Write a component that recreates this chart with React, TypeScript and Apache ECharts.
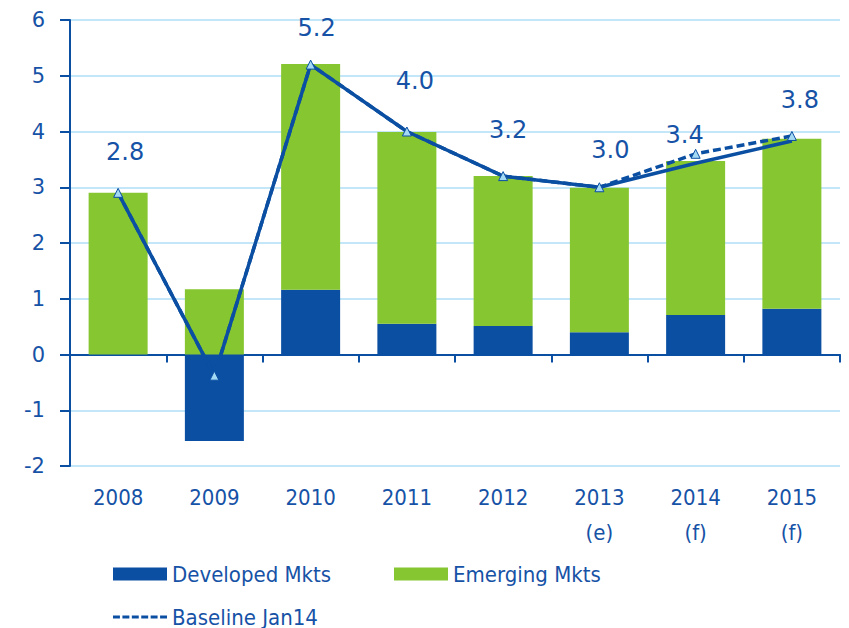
import React, { useEffect, useRef } from "react";
import * as echarts from "echarts";

const categories = ["2008", "2009", "2010", "2011", "2012", "2013\n(e)", "2014\n(f)", "2015\n(f)"];
const developedMkts = [0, -1.55, 1.16, 0.55, 0.51, 0.4, 0.71, 0.82];
const emergingMkts = [2.9, 1.17, 4.05, 3.44, 2.69, 2.59, 2.76, 3.05];
const worldGrowth = [2.9, -0.38, 5.2, 4.0, 3.2, 3.0, 3.43, 3.83];
const baselineJan14 = [2.9, -0.38, 5.2, 4.0, 3.2, 3.0, 3.6, 3.92];
const valueLabels = ["2.8", "", "5.2", "4.0", "3.2", "3.0", "3.4", "3.8"];
const yTicks = { min: -2, max: 6, interval: 1 };

// label placement tweaks (layout only)
const labelOffsets: [number, number][] = [
  [7, -41], [0, 0], [6, -37], [8, -51], [5, -46], [11, -37], [-11, -19], [8, -36],
];

const DARK = "#0b4fa3";
const GREEN = "#86c630";
const TEXT = "#1652a6";
const GRID = "#c3e7f8";
const NARROW = "'Liberation Sans Narrow', 'DejaVu Sans Condensed', 'Liberation Sans', sans-serif";
const dashIcon =
  "path://M0,0h7v3h-7zM9.5,0h7v3h-7zM19,0h7v3h-7zM28.5,0h7v3h-7zM38,0h7v3h-7zM47.5,0h7v3h-7z";

const legendText = { color: TEXT, fontSize: 22, fontFamily: NARROW };

export default function App() {
  const ref = useRef<HTMLDivElement>(null);
  useEffect(() => {
    if (!ref.current) return;
    const chart = echarts.init(ref.current, null, { renderer: "svg" });
    chart.setOption({
      animation: false,
      backgroundColor: "#ffffff",
      grid: { left: 70, right: 9, top: 20, bottom: 162, containLabel: false },
      legend: [
        {
          data: [{ name: "Developed Mkts", icon: "rect" }],
          left: 108,
          top: 558,
          itemWidth: 54,
          itemHeight: 13,
          selectedMode: false,
          textStyle: legendText,
        },
        {
          data: [{ name: "Emerging Mkts", icon: "rect" }],
          left: 389,
          top: 558,
          itemWidth: 54,
          itemHeight: 13,
          selectedMode: false,
          textStyle: legendText,
        },
        {
          data: [
            {
              name: "Baseline Jan14",
              icon: dashIcon,
              itemStyle: { color: DARK, borderWidth: 0 },
            },
          ],
          left: 108,
          top: 601,
          itemWidth: 54,
          itemHeight: 3.5,
          selectedMode: false,
          textStyle: legendText,
        },
      ],
      xAxis: [
        {
          type: "category",
          data: categories,
          boundaryGap: true,
          axisLine: { show: true, onZero: true, lineStyle: { color: DARK, width: 2 } },
          axisTick: { show: true, inside: false, length: 8, lineStyle: { color: DARK, width: 2 } },
          axisLabel: { show: false },
          splitLine: { show: false },
        },
        {
          type: "category",
          data: categories,
          position: "bottom",
          boundaryGap: true,
          axisLine: { show: false, onZero: false },
          axisTick: { show: false },
          axisLabel: {
            show: true,
            margin: 14,
            color: TEXT,
            fontSize: 22,
            lineHeight: 35,
            fontFamily: NARROW,
            interval: 0,
          },
          splitLine: { show: false },
        },
      ],
      yAxis: {
        type: "value",
        min: yTicks.min,
        max: yTicks.max,
        interval: yTicks.interval,
        axisLine: { show: true, lineStyle: { color: DARK, width: 2 } },
        axisTick: { show: true, inside: false, length: 10, lineStyle: { color: DARK, width: 2 } },
        axisLabel: { margin: 25, color: TEXT, fontSize: 21, fontFamily: "'DejaVu Sans', sans-serif" },
        splitLine: { show: true, lineStyle: { color: GRID, width: 2 } },
      },
      series: [
        {
          name: "Developed Mkts",
          type: "bar",
          stack: "total",
          xAxisIndex: 0,
          barWidth: 59,
          data: developedMkts,
          itemStyle: { color: DARK },
        },
        {
          name: "Emerging Mkts",
          type: "bar",
          stack: "total",
          xAxisIndex: 0,
          barWidth: 59,
          data: emergingMkts,
          itemStyle: { color: GREEN },
        },
        {
          name: "World",
          type: "line",
          xAxisIndex: 0,
          data: worldGrowth,
          symbol: "none",
          lineStyle: { color: DARK, width: 3.5 },
          itemStyle: { color: DARK },
          z: 3,
        },
        {
          name: "Baseline Jan14",
          type: "line",
          xAxisIndex: 0,
          data: baselineJan14.map((v, i) => ({
            value: v,
            label: { offset: labelOffsets[i] },
          })),
          symbol: "triangle",
          symbolSize: 9,
          showSymbol: true,
          lineStyle: { color: DARK, width: 3.5, type: [8, 4] },
          itemStyle: { color: "#a3d9f3", borderColor: DARK, borderWidth: 1 },
          label: {
            show: true,
            position: "inside",
            formatter: (p: any) => valueLabels[p.dataIndex],
            color: TEXT,
            fontSize: 24,
            fontFamily: "'DejaVu Sans', sans-serif",
          },
          z: 4,
        },
      ],
    });
    return () => chart.dispose();
  }, []);
  return (
    <div
      ref={ref}
      style={{ position: "fixed", left: 0, top: 0, width: 849, height: 628 }}
    />
  );
}
